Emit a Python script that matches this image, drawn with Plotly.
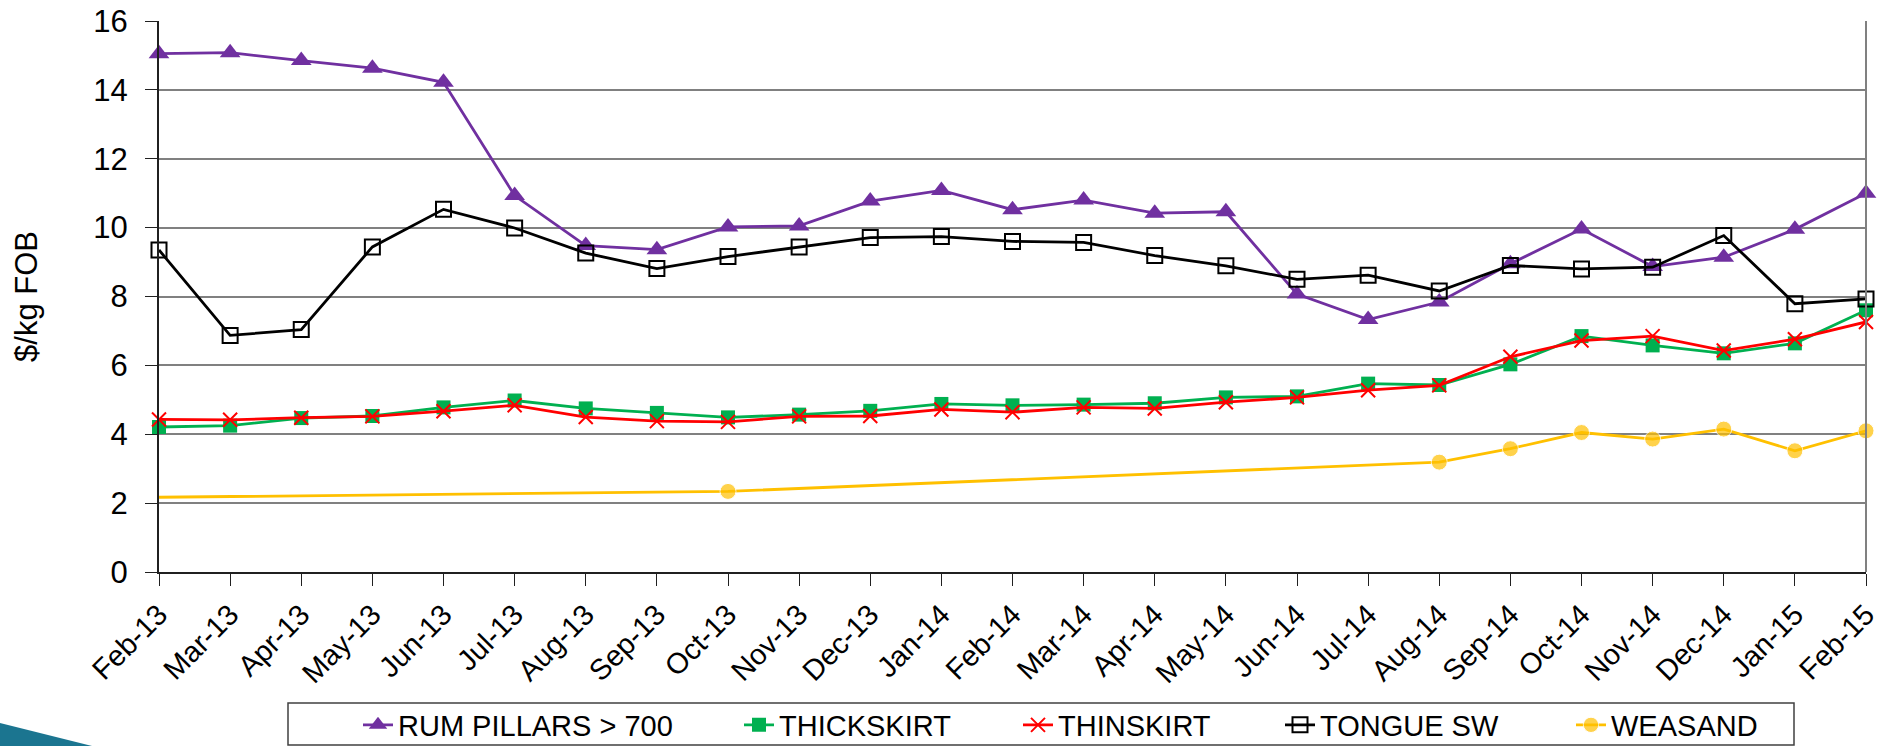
import plotly.graph_objects as go

months = ["Feb-13", "Mar-13", "Apr-13", "May-13", "Jun-13", "Jul-13", "Aug-13", "Sep-13",
          "Oct-13", "Nov-13", "Dec-13", "Jan-14", "Feb-14", "Mar-14", "Apr-14", "May-14",
          "Jun-14", "Jul-14", "Aug-14", "Sep-14", "Oct-14", "Nov-14", "Dec-14", "Jan-15", "Feb-15"]

rum_pillars = [15.05, 15.08, 14.85, 14.63, 14.22, 10.93, 9.48, 9.36, 10.02, 10.05, 10.77, 11.08,
               10.52, 10.80, 10.42, 10.46, 8.07, 7.33, 7.84, 8.95, 9.96, 8.87, 9.14, 9.95, 11.00]
thickskirt = [4.21, 4.25, 4.47, 4.53, 4.78, 4.98, 4.75, 4.62, 4.49, 4.57, 4.68, 4.88,
              4.84, 4.86, 4.90, 5.07, 5.10, 5.47, 5.43, 6.03, 6.85, 6.58, 6.35, 6.64, 7.60]
thinskirt = [4.43, 4.42, 4.48, 4.52, 4.67, 4.84, 4.50, 4.38, 4.36, 4.52, 4.53, 4.72,
             4.64, 4.78, 4.75, 4.93, 5.07, 5.28, 5.42, 6.25, 6.72, 6.85, 6.43, 6.76, 7.26]
tongue_sw = [9.35, 6.87, 7.04, 9.44, 10.53, 9.99, 9.26, 8.81, 9.16, 9.44, 9.71, 9.74,
             9.60, 9.57, 9.19, 8.89, 8.50, 8.62, 8.16, 8.90, 8.80, 8.85, 9.77, 7.79, 7.93]
weasand = [2.17, None, None, None, None, None, None, None, 2.34, None, None, None,
           None, None, None, None, None, None, 3.19, 3.58, 4.05, 3.86, 4.15, 3.52, 4.10]

series_names = ["RUM PILLARS > 700", "THICKSKIRT", "THINSKIRT", "TONGUE SW", "WEASAND"]

NARROW = "Liberation Sans Narrow, Arial Narrow, Liberation Sans, Arial, sans-serif"
REG = "Liberation Sans, Arial, sans-serif"

FW, FH = 1879, 746
L, R, T, B = 159, 1866, 21, 572
W, H = R - L, B - T


def px(x):
    return (x - L) / W


def py(y):
    return (B - y) / H


fig = go.Figure()

styles = [
    dict(color="#7030A0", symbol="triangle-up", size=18, mline=None),
    dict(color="#00B050", symbol="square", size=14, mline=None),
    dict(color="#FF0000", symbol="x-thin-open", size=14, mline=2),
    dict(color="#000000", symbol="square-open", size=15, mline=2),
    dict(color="#FFC000", symbol="circle", size=16, mline=None),
]
data = [rum_pillars, thickskirt, thinskirt, tongue_sw, weasand]
legend_ids = ["legend", "legend2", "legend3", "legend4", "legend5"]

for i, (name, vals, st) in enumerate(zip(series_names, data, styles)):
    marker = dict(color=st["color"], symbol=st["symbol"], size=st["size"])
    if st["mline"]:
        marker["line"] = dict(color=st["color"], width=st["mline"])
    if name == "WEASAND":
        marker["size"] = [0 if j == 0 else st["size"] for j in range(len(vals))]
    fig.add_trace(go.Scatter(
        x=months, y=vals, name=name, mode="lines+markers",
        line=dict(color=st["color"], width=2.8),
        marker=marker, connectgaps=True, cliponaxis=False,
        legend=legend_ids[i],
    ))

legend_text_x = [399, 780, 1059, 1321, 1612]
legend_cfg = {}
for lid, tx in zip(legend_ids, legend_text_x):
    legend_cfg[lid] = dict(
        x=px(tx - 41), xanchor="left", y=py(725), yanchor="middle",
        orientation="h", bgcolor="rgba(0,0,0,0)", borderwidth=0,
        font=dict(family=NARROW, size=29, color="black"),
        itemwidth=30,
    )

fig.update_layout(
    width=FW, height=FH, autosize=False,
    margin=dict(l=L, r=FW - R, t=T, b=FH - B, pad=0, autoexpand=False),
    paper_bgcolor="white", plot_bgcolor="white",
    showlegend=True,
    xaxis=dict(
        type="category", range=[0, len(months) - 1],
        showgrid=False, showline=True, linecolor="#202020", linewidth=2,
        ticks="outside", ticklen=12, tickcolor="#202020", tickwidth=1,
        tickangle=-45, tickfont=dict(family=NARROW, size=29, color="black"),
        automargin=False, zeroline=False,
    ),
    yaxis=dict(
        range=[0, 16], dtick=2, showgrid=True, gridcolor="#808080", gridwidth=2,
        showline=True, linecolor="#202020", linewidth=2,
        ticks="outside", ticklen=12, tickcolor="#202020", tickwidth=1,
        ticklabelstandoff=11,
        tickfont=dict(family=NARROW, size=31, color="black"),
        title=dict(text="$/kg FOB", font=dict(family=REG, size=31, color="black"), standoff=46),
        automargin=False, zeroline=False,
    ),
    shapes=[
        dict(type="line", xref="paper", yref="paper", x0=1, x1=1, y0=0, y1=1,
             line=dict(color="#808080", width=2)),
        dict(type="rect", xref="paper", yref="paper",
             x0=px(288), x1=px(1794), y0=py(703), y1=py(745),
             line=dict(color="#404040", width=1.5), fillcolor="rgba(0,0,0,0)", layer="below"),
        dict(type="path", xref="paper", yref="paper",
             path=f"M {px(0)},{py(723)} L {px(92)},{py(746)} L {px(0)},{py(746)} Z",
             fillcolor="#1B7590", line=dict(width=0), layer="below"),
    ],
    **legend_cfg,
)

fig.write_html(
    "out.html",
    config={"displayModeBar": False},
    post_script="document.body.style.margin='0';document.body.style.overflow='hidden';",
)
